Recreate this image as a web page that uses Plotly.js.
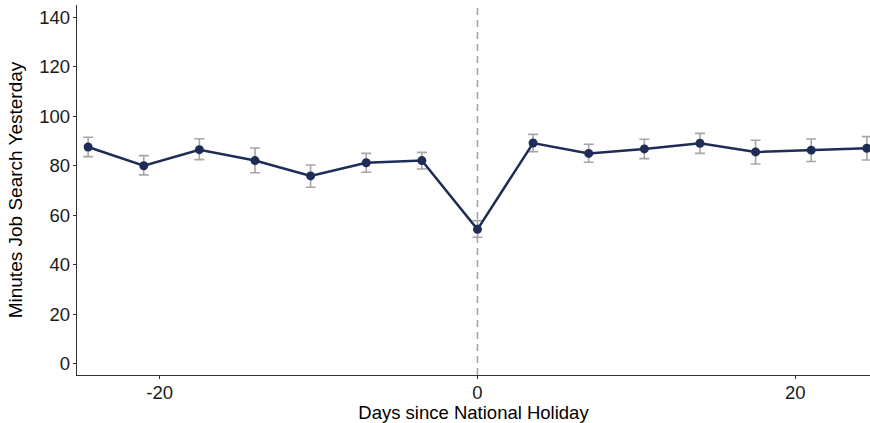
<!DOCTYPE html>
<html>
<head>
<meta charset="utf-8">
<script src="https://cdn.plot.ly/plotly-3.0.1.min.js"></script>
<style>html,body{margin:0;padding:0;background:#fff;}#chart{width:870px;height:423px;}</style>
</head>
<body>
<div id="chart"></div>
<script>
const days = [-24.5, -21, -17.5, -14, -10.5, -7, -3.5, 0, 3.5, 7, 10.5, 14, 17.5, 21, 24.5];
const minutes = [87.6, 80.0, 86.5, 82.1, 75.9, 81.2, 82.1, 54.3, 89.2, 85.0, 86.8, 89.1, 85.6, 86.3, 87.1];
const upper = [91.5, 84.1, 90.9, 87.2, 80.3, 85.0, 85.4, 57.8, 92.7, 88.7, 90.7, 93.1, 90.3, 90.8, 91.8];
const lower = [83.7, 76.3, 82.5, 77.2, 71.3, 77.4, 78.7, 51.1, 85.7, 81.4, 82.9, 85.0, 80.7, 81.7, 82.3];
const xTicks = [-20, 0, 20];
const yTicks = [0, 20, 40, 60, 80, 100, 120, 140];

const errPlus = upper.map((u, i) => u - minutes[i]);
const errMinus = minutes.map((m, i) => m - lower[i]);

const traces = [
  {
    x: days, y: minutes, type: 'scatter', mode: 'markers',
    marker: {size: 1, opacity: 0},
    error_y: {type: 'data', symmetric: false, array: errPlus, arrayminus: errMinus,
      color: '#a6a6a6', thickness: 1.6, width: 5},
    hoverinfo: 'skip', showlegend: false
  },
  {
    x: days, y: minutes, type: 'scatter', mode: 'lines+markers',
    line: {color: '#1f2d56', width: 2.5},
    marker: {color: '#1f2d56', size: 9},
    showlegend: false
  }
];

const layout = {
  width: 870, height: 423,
  margin: {l: 77, r: 0, t: 5, b: 48},
  paper_bgcolor: '#fff', plot_bgcolor: '#fff',
  font: {family: 'Liberation Sans, Arial, sans-serif', color: '#1a1a1a', size: 18},
  xaxis: {
    range: [-25.2, 24.7], tickvals: xTicks, ticktext: xTicks.map(String),
    showgrid: false, zeroline: false, showline: true, linecolor: '#333', linewidth: 1.3,
    ticks: 'outside', ticklen: 3, tickcolor: '#333', tickwidth: 1.3,
    tickfont: {size: 18.5, color: '#1a1a1a'}, automargin: false, ticklabelstandoff: -3,
    title: {text: 'Days since National Holiday', font: {size: 18.5, color: '#000'}, standoff: 3}
  },
  yaxis: {
    range: [-4.6, 145], tickvals: yTicks, ticktext: yTicks.map(String),
    showgrid: false, zeroline: false, showline: true, linecolor: '#333', linewidth: 1.3,
    ticks: 'outside', ticklen: 3, tickcolor: '#333', tickwidth: 1.3,
    tickfont: {size: 18.5, color: '#1a1a1a'}, automargin: false, ticklabelstandoff: -1,
    title: {text: 'Minutes Job Search Yesterday', font: {size: 19, color: '#000'}, standoff: 11}
  },
  shapes: [{
    type: 'line', xref: 'x', yref: 'paper', x0: 0, x1: 0, y0: 0, y1: 1,
    line: {color: '#a6a6a6', width: 1.6, dash: '7px,5px'}, layer: 'below'
  }]
};

Plotly.newPlot('chart', traces, layout, {displayModeBar: false, staticPlot: true});
</script>
</body>
</html>
